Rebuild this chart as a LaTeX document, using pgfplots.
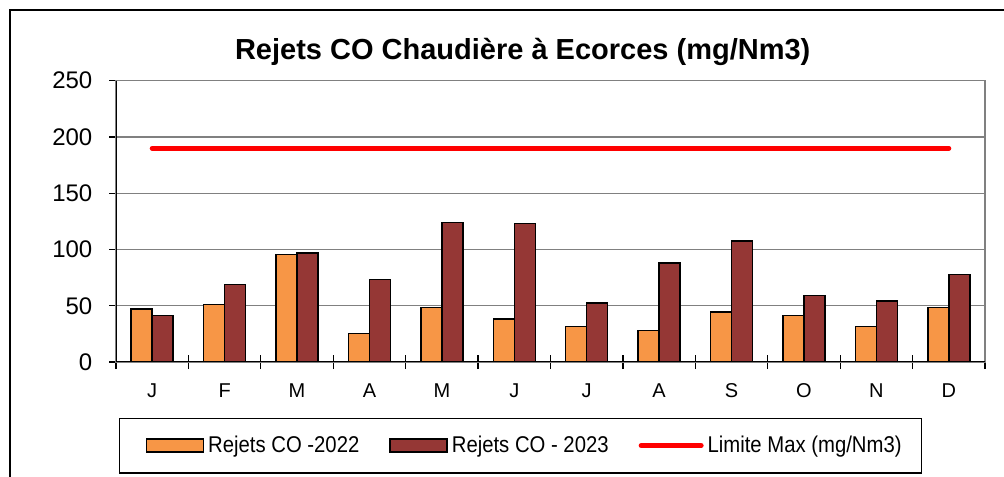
\documentclass[border=0pt]{standalone}
\usepackage{pgfplots}
\pgfplotsset{compat=1.18}
\usepackage{fontspec}
\setmainfont{Liberation Sans}
\definecolor{cOrange}{RGB}{247,150,70}
\definecolor{cDark}{RGB}{149,55,53}
\definecolor{cGrid}{RGB}{128,128,128}
\pgfplotsset{
  barleg/.style={legend image code/.code={\path (0pt,0pt); \draw[##1,/tikz/.cd] (5pt,-3.25pt) rectangle (33.5pt,3.25pt);}},
  lineleg/.style={legend image code/.code={\path (0pt,0pt); \draw[##1,/tikz/.cd] (5pt,0pt) -- (35pt,0pt);}},
}
\begin{document}
\begin{tikzpicture}
\useasboundingbox (0,0) rectangle (502pt,238pt);
\begin{axis}[
  at={(58pt,57pt)}, anchor=south west,
  scale only axis, width=434.5pt, height=140.65pt,
  ybar,
  xmin=-0.5, xmax=11.5, ymin=0, ymax=250,
  ytick={0,50,...,250},
  xtick={0,...,11},
  xticklabels={J,F,M,A,M,J,J,A,S,O,N,D},
  minor xtick={-0.5,0.5,...,11.5},
  major x tick style={draw=none},
  minor x tick style={yshift=3.5pt, black, line width=0.6pt},
  y tick style={black, line width=0.6pt},
  minor tick length=7pt,
  major tick length=3.3pt,
  tick align=outside,
  xtick pos=left, ytick pos=left,
  ymajorgrids,
  grid style={cGrid, line width=0.6pt},
  axis line style={cGrid, line width=0.7pt},
  /pgf/number format/assume math mode=true,
  yticklabel style={font=\fontsize{12}{14}\selectfont, xshift=-5pt},
  xticklabel style={font=\fontsize{10}{12}\selectfont, yshift=-4pt},
  title={\textbf{Rejets CO Chaudière à Ecorces (mg/Nm3)}},
  title style={at={(0.468,1.059)}, anchor=center, font=\fontsize{14.5}{17}\selectfont},
  legend columns=3,
  legend style={at={(0.00345,-0.2975)}, anchor=west, draw=black, line width=0.75pt,
    inner xsep=8pt, inner ysep=6.75pt,
    font=\fontsize{11.4}{13}\selectfont,
    /tikz/every even column/.append style={column sep=8pt}},
  legend cell align=left,
]
\addplot[fill=cOrange, draw=black, line width=0.75pt, bar width=10.5pt, bar shift=-5.25pt, barleg]
  coordinates {(0,47) (1,51) (2,95.5) (3,25.3) (4,48.3) (5,38) (6,31.7) (7,28.2) (8,44.5) (9,41.5) (10,31.7) (11,48.3)};
\addlegendentry{\scalebox{0.89}[1]{Rejets CO -2022}}
\addplot[fill=cDark, draw=black, line width=0.75pt, bar width=10.5pt, bar shift=5.25pt, barleg]
  coordinates {(0,41.5) (1,69) (2,96.7) (3,73.3) (4,124) (5,123) (6,52.5) (7,88) (8,107.7) (9,59) (10,54.3) (11,77.7)};
\addlegendentry{\scalebox{0.89}[1]{Rejets CO - 2023}}
\addplot[sharp plot, red, line width=2.5pt, line cap=round, mark=none, lineleg]
  coordinates {(0,190) (11,190)};
\addlegendentry{\scalebox{0.89}[1]{Limite Max (mg/Nm3)}}
\draw[black, line width=0.75pt] (rel axis cs:0,0) -- (rel axis cs:0,1);
\draw[black, line width=0.75pt] (rel axis cs:0,0) -- (rel axis cs:1,0);
\end{axis}
\draw[black, line width=1.25pt] (5pt,-20pt) rectangle (530pt,233pt);
\end{tikzpicture}
\end{document}
